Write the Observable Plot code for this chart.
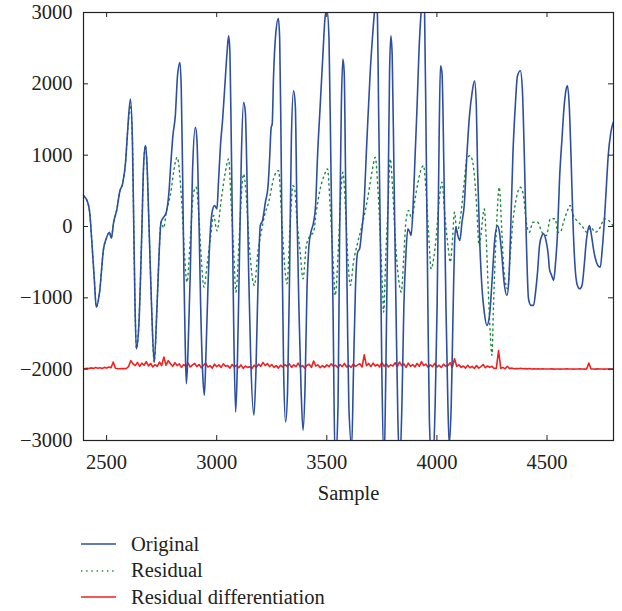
<!DOCTYPE html>
<html><head><meta charset="utf-8">
<script src="https://cdn.jsdelivr.net/npm/d3@7"></script>
<script src="https://cdn.jsdelivr.net/npm/@observablehq/plot@0.6"></script>
<style>
body{margin:0;background:#fff;font-family:"Liberation Serif",serif;}
#legend{padding-top:19px;margin-left:81px}
.row{height:26.6px;display:flex;align-items:center;font-size:20.5px;color:#222}
.row svg{margin-right:15px}
svg text{font-family:"Liberation Serif",serif}
</style></head><body><div id="chart"></div><div id="legend"></div>
<script>
// Original (blue)
const origX = [2395,2414,2423,2434,2444,2453,2468,2486,2498,2513,2521,2532,2547,2559,2574,2586,2595,2608,2617,2623,2629,2635,2647,2659,2668,2676,2683,2692,2704,2716,2729,2738,2747,2759,2771,2783,2792,2801,2812,2822,2833,2839,2845,2851,2857,2862,2869,2880,2890,2903,2910,2918,2927,2936,2944,2951,2960,2969,2979,2990,3001,3008,3017,3027,3036,3047,3054,3060,3066,3072,3078,3086,3093,3102,3112,3122,3130,3137,3145,3154,3169,3178,3187,3198,3208,3221,3233,3241,3247,3252,3258,3268,3280,3286,3292,3298,3304,3313,3322,3331,3339,3349,3357,3364,3373,3383,3392,3401,3410,3419,3428,3440,3449,3458,3470,3482,3493,3501,3510,3519,3528,3538,3551,3558,3566,3573,3579,3585,3593,3600,3613,3621,3630,3640,3649,3658,3667,3682,3697,3708,3717,3725,3730,3735,3743,3750,3760,3768,3778,3785,3791,3797,3805,3814,3823,3832,3841,3850,3859,3868,3877,3883,3892,3901,3910,3919,3928,3936,3944,3951,3959,3966,3979,3992,4001,4010,4016,4023,4032,4041,4050,4056,4065,4074,4080,4086,4095,4104,4114,4124,4136,4148,4160,4171,4179,4185,4194,4205,4215,4227,4239,4251,4263,4275,4284,4295,4305,4318,4327,4336,4345,4356,4366,4379,4388,4397,4406,4416,4427,4439,4448,4457,4466,4477,4484,4497,4506,4511,4521,4530,4539,4548,4557,4568,4578,4587,4593,4601,4609,4618,4627,4636,4648,4659,4669,4678,4684,4693,4702,4711,4720,4731,4742,4751,4760,4769,4778,4790,4801];
const origY = [434,340,200,-266,-733,-1130,-920,-313,-173,-80,-163,60,247,480,620,900,1320,1787,1227,60,-1106,-1713,-1340,-173,854,1134,900,60,-1106,-1900,-1106,-406,60,130,200,480,900,1274,1554,2114,2300,1927,760,-640,-1666,-2203,-1806,-640,760,1390,1227,294,-1106,-2040,-2366,-1806,-873,-173,200,294,247,620,1134,1507,1927,2440,2674,2440,1227,-173,-1573,-2600,-2040,-640,994,1740,1600,760,-640,-1806,-2646,-2040,-873,14,84,340,560,1000,1380,1440,2100,2700,2916,2627,1227,-640,-2040,-2740,-2273,-640,1227,1904,1694,294,-1106,-2273,-2856,-2273,-873,-266,-80,60,294,994,1694,2394,2954,3030,2627,760,-1106,-3350,-2506,-173,1694,2347,2160,760,-1106,-2506,-3080,-2040,-873,-360,-313,-80,200,1200,2160,2674,3024,3200,2950,1694,-173,-2040,-3350,-2040,294,2160,2674,2394,760,-1106,-2740,-3300,-2506,-1106,-406,-33,-80,-126,294,994,1694,2487,3000,3350,3000,1227,-1106,-2740,-3400,-2506,-1106,1227,2254,2160,760,-1106,-2506,-3050,-2506,-1106,-266,-10,-126,-196,60,294,994,1554,1880,2044,1694,760,-173,-873,-1200,-1386,-1246,-733,-173,14,-80,-406,-780,-966,-733,60,994,1694,2114,2184,1927,994,-173,-1013,-1106,-1106,-920,-640,-266,-126,-103,-220,-406,-593,-686,-756,-500,-80,668,1227,1694,1927,1974,1694,994,60,-546,-803,-873,-826,-546,-220,-80,14,-126,-313,-453,-546,-570,-313,60,528,994,1320,1460];

// Residual (green dotted)
const resX = [2395,2414,2423,2434,2444,2453,2468,2486,2498,2513,2521,2532,2547,2559,2574,2586,2595,2608,2617,2623,2629,2635,2647,2659,2668,2676,2683,2692,2704,2716,2729,2738,2747,2759,2771,2789,2812,2820,2842,2854,2865,2880,2895,2907,2918,2930,2942,2956,2971,2986,3001,3021,3039,3054,3066,3078,3087,3102,3114,3122,3133,3148,3171,3187,3202,3217,3236,3258,3270,3281,3296,3311,3319,3334,3346,3354,3364,3379,3392,3407,3425,3440,3452,3470,3488,3503,3515,3528,3538,3553,3564,3573,3584,3594,3607,3621,3637,3652,3667,3685,3705,3720,3732,3743,3753,3758,3768,3778,3788,3799,3811,3826,3838,3849,3859,3871,3886,3901,3914,3929,3939,3950,3962,3974,3985,3996,4011,4023,4035,4050,4061,4071,4080,4091,4106,4124,4136,4151,4163,4174,4182,4191,4200,4209,4215,4224,4233,4242,4250,4257,4265,4273,4283,4295,4305,4321,4333,4345,4360,4379,4393,4406,4420,4436,4457,4477,4497,4515,4538,4548,4560,4575,4590,4605,4620,4643,4663,4681,4699,4719,4742,4760,4780,4799];
const resY = [434,340,200,-266,-733,-1130,-920,-313,-173,-80,-163,60,247,480,620,900,1320,1700,1227,60,-1106,-1713,-1340,-173,854,1134,900,60,-1106,-1900,-1106,-406,60,-20,200,434,900,970,294,-406,-780,-173,480,550,200,-453,-850,-546,-173,154,-60,387,760,948,294,-406,-920,-173,528,737,480,-266,-826,-360,-80,154,340,668,760,784,60,-640,-803,60,574,528,108,-360,-733,-266,-126,-80,200,528,714,808,294,-453,-966,-266,480,760,294,-360,-826,-500,-266,-80,108,387,760,970,528,-173,-873,-1200,-406,294,948,528,-173,-733,-920,-453,60,224,108,387,620,808,854,528,-80,-593,-453,-173,387,620,200,-266,-500,-173,200,-80,108,620,948,994,900,574,200,-266,-126,154,247,-173,-873,-1480,-1806,-1106,-406,154,550,-80,-640,-873,-406,60,387,550,434,60,-80,60,60,-80,-126,108,108,-80,-80,60,200,294,154,60,-10,-80,-10,-80,-10,108,84,14];

// Residual differentiation (red), one value every 10 samples from 2400
const redStart = 2400, redStep = 10;
const redY = [
-1995,-1988,-1992,-1982,-1990,-1978,-1986,-1980,-1990,-1975,
-1985,-1970,-1980,-1900,-1988,-1992,-1995,-1990,-1993,-1990,
-1960,-1880,-1925,-1950,-1905,-1960,-1915,-1945,-1895,-1955,
-1920,-1970,-1935,-1960,-1900,-1950,-1830,-1945,-1880,-1925,
-1960,-1910,-1950,-1925,-1975,-1935,-1960,-1915,-1970,-1940,
-1920,-1965,-1935,-1980,-1945,-1915,-1970,-1950,-1985,-1930,
-1965,-1940,-1975,-1925,-1960,-1950,-1985,-1935,-1970,-1945,
-1980,-1940,-1990,-1955,-1975,-1965,-1990,-1945,-1975,-1930,
-1960,-1905,-1950,-1920,-1965,-1935,-1975,-1950,-1985,-1945,
-1970,-1935,-1960,-1925,-1975,-1940,-1965,-1915,-1970,-1950,
-1985,-1945,-1930,-1975,-1885,-1955,-1940,-1980,-1950,-1975,
-1940,-1965,-1925,-1960,-1945,-1980,-1935,-1965,-1920,-1970,
-1945,-1975,-1930,-1960,-1940,-1925,-1970,-1800,-1950,-1920,
-1965,-1915,-1955,-1935,-1970,-1905,-1960,-1925,-1970,-1940,
-1955,-1910,-1965,-1900,-1950,-1925,-1975,-1915,-1960,-1935,
-1970,-1920,-1960,-1895,-1950,-1930,-1975,-1940,-1965,-1920,
-1970,-1945,-1975,-1930,-1960,-1950,-1910,-1975,-1855,-1960,
-1940,-1975,-1955,-1985,-1945,-1980,-1960,-1990,-1950,-1985,
-1965,-1935,-1980,-1955,-1975,-1960,-1990,-1985,-1740,-1990,
-1975,-1995,-1960,-1992,-1985,-1995,-1990,-1993,-1988,-1995,
-1992,-1996,-1990,-1997,-1994,-1998,-1995,-1997,-1996,-1998,
-1997,-1998,-1996,-1999,-1997,-1998,-1999,-1997,-1998,-1996,
-1998,-1997,-1999,-1998,-1997,-1996,-1998,-1999,-1997,-1915,
-1998,-1997,-1999,-1996,-1998,-1997,-1999,-1998,-1997,-1998,
-1998];

const xTicks = [2500,3000,3500,4000,4500];
const yTicks = [-3000,-2000,-1000,0,1000,2000,3000];
const seriesNames = ["Original","Residual","Residual differentiation"];
const seriesColors = ["#2c4fa3","#1e8a3c","#ef2222"];

const W = 622, H = 512, mt = 12, mb = 72, ml = 83, mr = 9;
const ph = H - mt - mb, pw = W - ml - mr;
const fmt = d => (d < 0 ? "\u2212" : "") + Math.abs(d);

const orig = origX.map((x, i) => ({x, y: origY[i]}));
const res = resX.map((x, i) => ({x, y: resY[i]}));
const red = redY.map((y, i) => ({x: redStart + i * redStep, y}));

const chart = Plot.plot({
  width: W, height: H,
  marginTop: mt, marginBottom: mb, marginLeft: ml, marginRight: mr,
  x: {domain: [2395, 4802]},
  y: {domain: [-3000, 3000]},
  style: {fontFamily: "Liberation Serif, serif", fontSize: "20.5px", background: "white", color: "#222"},
  marks: [
    Plot.line(red, {x: "x", y: "y", stroke: seriesColors[2], strokeWidth: 1.6}),
    Plot.line(res, {x: "x", y: "y", stroke: seriesColors[1], strokeWidth: 1.4, strokeDasharray: "1.4,3.8", curve: "monotone-x"}),
    Plot.line(orig, {x: "x", y: "y", stroke: seriesColors[0], strokeWidth: 1.6, curve: "monotone-x", clip: true}),
    Plot.tickX(xTicks, {x: d => d, insetTop: ph - 5, stroke: "#222"}),
    Plot.tickX(xTicks, {x: d => d, insetBottom: ph - 5, stroke: "#222"}),
    Plot.tickY(yTicks, {y: d => d, insetRight: pw - 5, stroke: "#222"}),
    Plot.tickY(yTicks, {y: d => d, insetLeft: pw - 5, stroke: "#222"}),
    Plot.axisX({ticks: xTicks, tickSize: 0, tickPadding: 14, tickFormat: fmt, label: null}),
    Plot.axisY({ticks: yTicks, tickSize: 0, tickPadding: 11, tickFormat: fmt, label: null}),
    Plot.text(["Sample"], {text: d => d, frameAnchor: "bottom", dy: 59}),
    Plot.frame({stroke: "#222", strokeWidth: 1.2})
  ]
});
document.getElementById("chart").appendChild(chart);

const legend = document.getElementById("legend");
seriesNames.forEach((name, i) => {
  const row = document.createElement("div");
  row.className = "row";
  const dash = i === 1 ? ' stroke-dasharray="1.4,3.8"' : '';
  row.innerHTML = `<svg width="35" height="10"><line x1="0" x2="35" y1="5" y2="5" stroke="${seriesColors[i]}" stroke-width="1.4"${dash}/></svg><span>${name}</span>`;
  legend.appendChild(row);
});
</script></body></html>
